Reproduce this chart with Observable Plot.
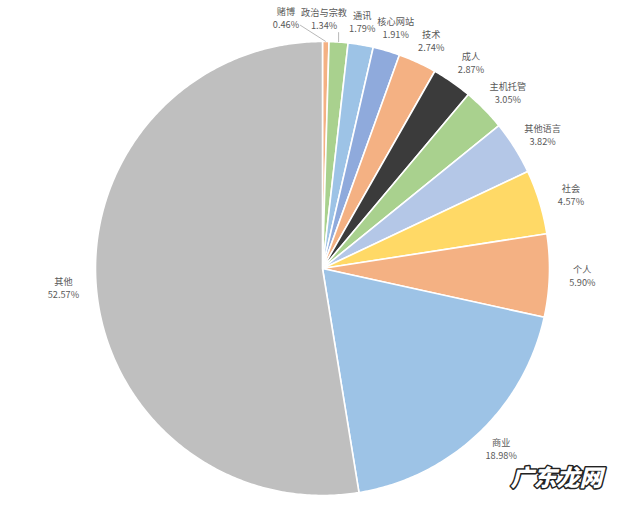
<!DOCTYPE html>
<html><head><meta charset="utf-8">
<script src="https://cdn.jsdelivr.net/npm/d3@7"></script>
<script src="https://cdn.jsdelivr.net/npm/@observablehq/plot@0.6"></script>
<style>body{margin:0;background:#fff}#chart{width:640px;height:514px}</style>
</head><body><div id="chart"></div>
<script>
// ---- data ----
const categories = ["赌博","政治与宗教","通讯","核心网站","技术","成人","主机托管","其他语言","社会","个人","商业","其他"];
const shares = [0.46,1.34,1.79,1.91,2.74,2.87,3.05,3.82,4.57,5.90,18.98,52.57];
const colors = ["#f4b183","#a9d18e","#9dc3e6","#8faadc","#f4b183","#3b3b3b","#a9d18e","#b4c7e7","#ffd966","#f4b183","#9dc3e6","#bfbfbf"];
const pctLabels = shares.map(v => v.toFixed(2) + "%");
const watermark = "广东龙网";

// ---- layout ----
const W = 640, H = 514, mL = 95, mR = 91, mT = 41, mB = 19;
const R = (W - mL - mR) / 2;           // pixels per data unit
const FONT = "'Noto Sans CJK SC','Noto Sans',sans-serif";
const FS = 9.2, GAP = 6.5;             // font size, half line spacing

const arcs = d3.pie().sort(null).value(d => d)(shares);

// slice polygons
const slicePts = [];
arcs.forEach((a, i) => {
  const n = Math.max(2, Math.ceil((a.endAngle - a.startAngle) / 0.01));
  slicePts.push({k: i, x: 0, y: 0, c: colors[i]});
  for (let s = 0; s <= n; s++) {
    const t = a.startAngle + (a.endAngle - a.startAngle) * s / n;
    slicePts.push({k: i, x: Math.sin(t), y: Math.cos(t), c: colors[i]});
  }
  slicePts.push({k: i, x: 0, y: 0, c: colors[i]});
});

// label measurement
const ctx = document.createElement("canvas").getContext("2d");
ctx.font = `${FS}px ${FONT}`;
const labels = arcs.map((a, i) => {
  const m = (a.startAngle + a.endAngle) / 2;
  const w = Math.max(ctx.measureText(categories[i]).width, ctx.measureText(pctLabels[i]).width);
  return {i, m, w, h: GAP * 4,
    px: 1.145 * Math.sin(m) * R, py: -1.101 * Math.cos(m) * R,
    ex: Math.sin(m), ey: Math.cos(m)};
});
labels.forEach(l => { l.px0 = l.px; });
// push crowded labels leftwards (simple collision avoidance)
for (let i = labels.length - 2; i >= 0; i--) {
  const a = labels[i], b = labels[i + 1];
  const sep = (a.w + b.w) / 2 + 2;
  if (Math.abs(a.py - b.py) < a.h && a.px > b.px - sep && a.m < Math.PI / 2) a.px = b.px - sep;
}
const labelData = labels.map(l => ({
  x: l.px / R, y: -l.py / R, name: categories[l.i], pct: pctLabels[l.i]
}));
const leaders = labels.filter(l => Math.abs(l.px - l.px0) > 8).map(l => {
  const left = l.px - l.w / 2, right = l.px + l.w / 2;
  const exPx = l.ex * R;
  let sx, sy;
  if (exPx > right) { sx = right + 1; sy = l.py + GAP; }
  else { sx = Math.max(left + 2, exPx); sy = l.py + GAP * 2; }
  return {x1: sx / R, y1: -sy / R, x2: l.ex, y2: l.ey};
});

const chart = Plot.plot({
  width: W, height: H,
  marginLeft: mL, marginRight: mR, marginTop: mT, marginBottom: mB,
  x: {domain: [-1, 1], axis: null},
  y: {domain: [-1, 1], axis: null},
  color: {type: "identity"},
  style: {background: "#fff", fontFamily: FONT},
  marks: [
    Plot.line(slicePts, {x: "x", y: "y", z: "k", fill: "c", stroke: "#fff", strokeWidth: 1.6, curve: "linear"}),
    Plot.link(leaders, {x1: "x1", y1: "y1", x2: "x2", y2: "y2", stroke: "#a6a6a6", strokeWidth: 0.8}),
    Plot.text(labelData, {x: "x", y: "y", text: "name", dy: -GAP, fill: "#595959", fontSize: FS}),
    Plot.text(labelData, {x: "x", y: "y", text: "pct", dy: GAP, fill: "#595959", fontSize: FS}),
    Plot.text([watermark], {frameAnchor: "bottom-right", text: d => d, textAnchor: "end", dx: 53, dy: -10,
      fontSize: 23, fontWeight: 900, fontStyle: "italic", fill: "#fff", stroke: "#222", strokeWidth: 3, paintOrder: "stroke"})
  ]
});
document.getElementById("chart").appendChild(chart);
</script>
</body></html>
